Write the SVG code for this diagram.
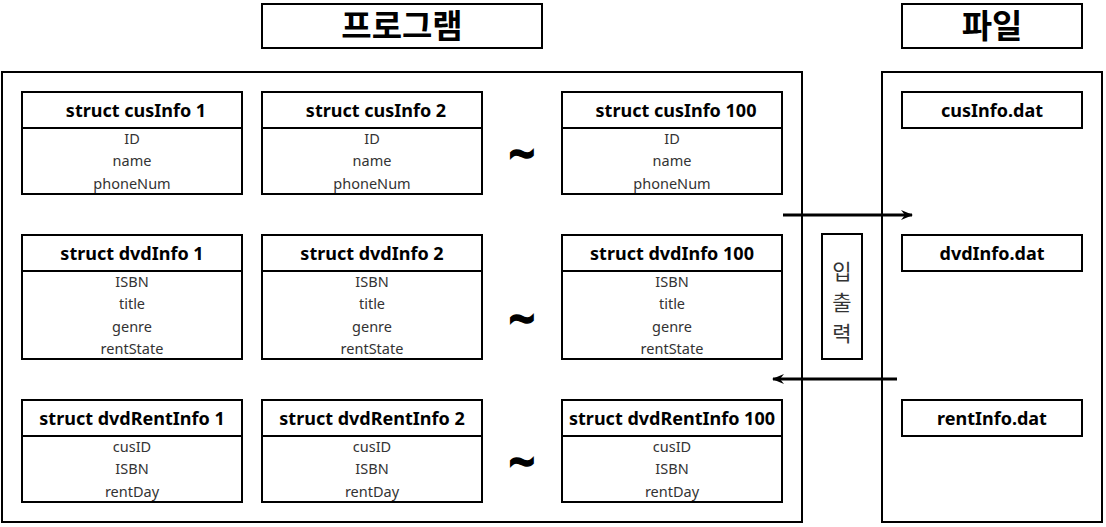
<svg xmlns="http://www.w3.org/2000/svg" width="1106" height="527" viewBox="0 0 1106 527">
<style>
rect{fill:#fff;stroke:#000;stroke-width:2}
line.sep{stroke:#000;stroke-width:2}
.h{font-family:"Noto Sans","Noto Sans CJK KR",sans-serif;font-weight:bold;font-size:18px;fill:#000;text-anchor:middle}
.f{font-family:"Noto Sans","Noto Sans CJK KR",sans-serif;font-size:14.5px;fill:#333;text-anchor:middle}
.t{font-family:"Noto Sans CJK KR",sans-serif;font-weight:bold;font-size:33px;fill:#000;text-anchor:middle}
.tl{font-family:"Noto Sans","Noto Sans CJK KR",sans-serif;font-weight:bold;font-size:46px;fill:#000;stroke:#000;stroke-width:1.5;text-anchor:middle}
.v{font-family:"Noto Sans CJK KR",sans-serif;font-size:21px;fill:#333;text-anchor:middle}
.c{stroke:#000;stroke-width:3;fill:none}
</style>
<defs>
<marker id="ah" markerWidth="12" markerHeight="10" refX="11" refY="5" orient="auto" markerUnits="userSpaceOnUse">
<path d="M0,0 L12,5 L0,10 L4,5 Z" fill="#000"/>
</marker>
</defs>
<g id="title-program"><rect x="262" y="4" width="280" height="44"/><text class="t" x="402" y="38">프로그램</text></g>
<g id="title-file"><rect x="902" y="4" width="180" height="44"/><text class="t" x="992" y="38">파일</text></g>
<g id="program"><rect x="2" y="72" width="800" height="450"/></g>
<g id="files"><rect x="882" y="72" width="220" height="450"/></g>

<g id="cus1"><rect x="22" y="92" width="220" height="102"/><line class="sep" x1="22" y1="128" x2="242" y2="128"/><text class="h" x="136" y="117">struct cusInfo 1</text><text class="f" x="132" y="144">ID</text><text class="f" x="132" y="166">name</text><text class="f" x="132" y="189">phoneNum</text></g>
<g id="cus2"><rect x="262" y="92" width="220" height="102"/><line class="sep" x1="262" y1="128" x2="482" y2="128"/><text class="h" x="376" y="117">struct cusInfo 2</text><text class="f" x="372" y="144">ID</text><text class="f" x="372" y="166">name</text><text class="f" x="372" y="189">phoneNum</text></g>
<g id="cus100"><rect x="562" y="92" width="220" height="102"/><line class="sep" x1="562" y1="128" x2="782" y2="128"/><text class="h" x="676" y="117">struct cusInfo 100</text><text class="f" x="672" y="144">ID</text><text class="f" x="672" y="166">name</text><text class="f" x="672" y="189">phoneNum</text></g>

<g id="dvd1"><rect x="22" y="235" width="220" height="124"/><line class="sep" x1="22" y1="271" x2="242" y2="271"/><text class="h" x="132" y="260">struct dvdInfo 1</text><text class="f" x="132" y="287">ISBN</text><text class="f" x="132" y="309">title</text><text class="f" x="132" y="332">genre</text><text class="f" x="132" y="354">rentState</text></g>
<g id="dvd2"><rect x="262" y="235" width="220" height="124"/><line class="sep" x1="262" y1="271" x2="482" y2="271"/><text class="h" x="372" y="260">struct dvdInfo 2</text><text class="f" x="372" y="287">ISBN</text><text class="f" x="372" y="309">title</text><text class="f" x="372" y="332">genre</text><text class="f" x="372" y="354">rentState</text></g>
<g id="dvd100"><rect x="562" y="235" width="220" height="124"/><line class="sep" x1="562" y1="271" x2="782" y2="271"/><text class="h" x="672" y="260">struct dvdInfo 100</text><text class="f" x="672" y="287">ISBN</text><text class="f" x="672" y="309">title</text><text class="f" x="672" y="332">genre</text><text class="f" x="672" y="354">rentState</text></g>

<g id="rent1"><rect x="22" y="400" width="220" height="102"/><line class="sep" x1="22" y1="436" x2="242" y2="436"/><text class="h" x="132" y="425">struct dvdRentInfo 1</text><text class="f" x="132" y="452">cusID</text><text class="f" x="132" y="474">ISBN</text><text class="f" x="132" y="497">rentDay</text></g>
<g id="rent2"><rect x="262" y="400" width="220" height="102"/><line class="sep" x1="262" y1="436" x2="482" y2="436"/><text class="h" x="372" y="425">struct dvdRentInfo 2</text><text class="f" x="372" y="452">cusID</text><text class="f" x="372" y="474">ISBN</text><text class="f" x="372" y="497">rentDay</text></g>
<g id="rent100"><rect x="562" y="400" width="220" height="102"/><line class="sep" x1="562" y1="436" x2="782" y2="436"/><text class="h" x="672" y="425">struct dvdRentInfo 100</text><text class="f" x="672" y="452">cusID</text><text class="f" x="672" y="474">ISBN</text><text class="f" x="672" y="497">rentDay</text></g>

<g id="tildes"><text class="tl" x="522" y="171">~</text><text class="tl" x="522" y="336">~</text><text class="tl" x="522" y="479">~</text></g>

<g id="cusdat"><rect x="902" y="92" width="180" height="36"/><text class="h" x="992" y="117">cusInfo.dat</text></g>
<g id="dvddat"><rect x="902" y="235" width="180" height="36"/><text class="h" x="992" y="260">dvdInfo.dat</text></g>
<g id="rentdat"><rect x="902" y="400" width="180" height="36"/><text class="h" x="992" y="425">rentInfo.dat</text></g>

<g id="io"><rect x="822" y="234" width="40" height="125"/><text class="v" x="842" y="279">입</text><text class="v" x="842" y="310">출</text><text class="v" x="842" y="341">력</text></g>

<g id="connectors">
<line class="c" x1="783" y1="215" x2="912" y2="215" marker-end="url(#ah)"/>
<line class="c" x1="897" y1="379" x2="773" y2="379" marker-end="url(#ah)"/>
</g>
</svg>
